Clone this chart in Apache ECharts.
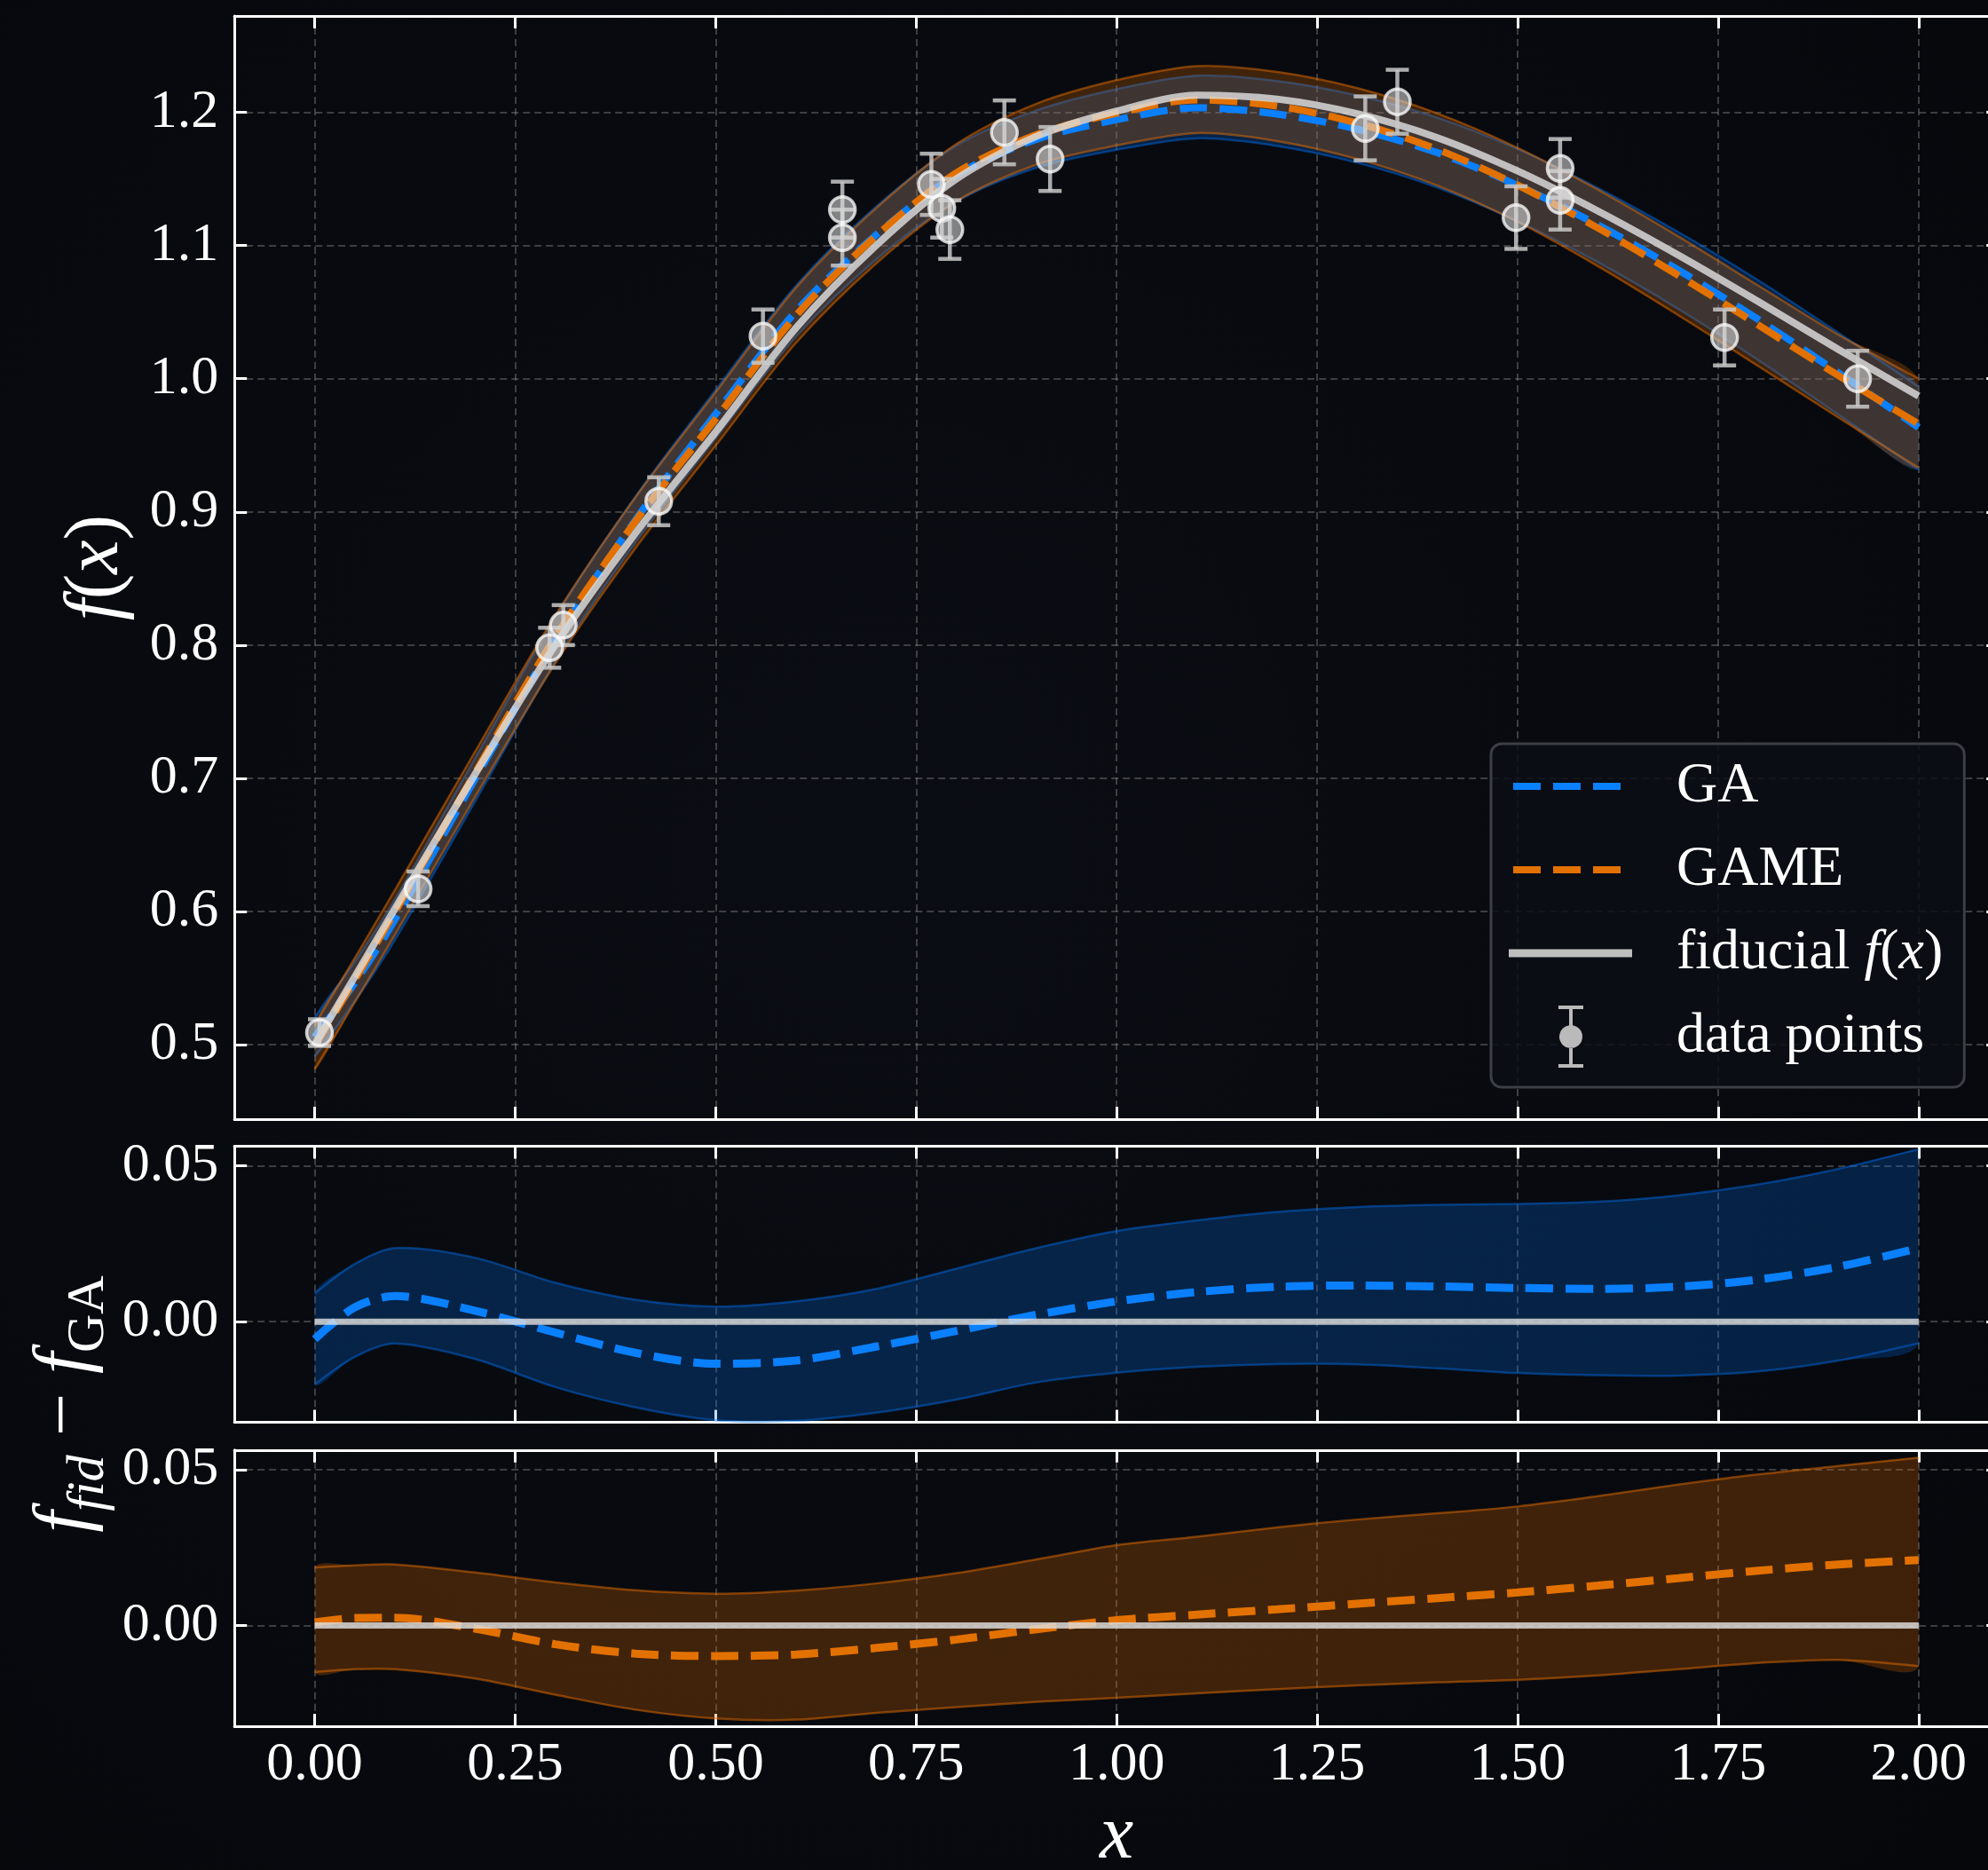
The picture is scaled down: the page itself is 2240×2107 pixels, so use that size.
<!DOCTYPE html>
<html>
<head>
<meta charset="utf-8">
<script src="https://cdn.jsdelivr.net/npm/echarts@6/dist/echarts.min.js"></script>
<style>
html,body{margin:0;padding:0;background:#070a0f;}
#chart{width:2240px;height:2107px;}
</style>
</head>
<body>
<div id="chart"></div>
<script>
// ---------------- data ----------------
const xs = [0, 0.05, 0.1, 0.2, 0.3, 0.4, 0.5, 0.6, 0.7, 0.8, 0.9, 1.0, 1.1, 1.2, 1.3, 1.4, 1.5, 1.6, 1.7, 1.8, 1.9, 2.0];

const fiducial = [0.500, 0.551, 0.602, 0.703, 0.800, 0.884, 0.960, 1.038, 1.100, 1.150, 1.182, 1.201, 1.213, 1.210, 1.199, 1.181, 1.156, 1.126, 1.093, 1.058, 1.022, 0.987];

const gaFit   = [0.5056, 0.5464, 0.5938, 0.6995, 0.8035, 0.894, 0.9735, 1.0505, 1.108, 1.153, 1.1798, 1.1945, 1.2035, 1.1988, 1.1874, 1.1697, 1.1452, 1.1155, 1.0818, 1.0445, 1.0044, 0.9634];
const gaLow   = [0.491, 0.5325, 0.5784, 0.6825, 0.7875, 0.877, 0.9552, 1.0315, 1.0895, 1.133, 1.1584, 1.1719, 1.1805, 1.1748, 1.1622, 1.1435, 1.1182, 1.0875, 1.0525, 1.014, 0.973, 0.9317];
const gaHigh  = [0.5202, 0.5623, 0.609, 0.715, 0.821, 0.9115, 0.9916, 1.0698, 1.1292, 1.175, 1.2015, 1.2174, 1.2275, 1.2236, 1.2127, 1.196, 1.1725, 1.1432, 1.1103, 1.074, 1.0345, 0.9939];

const gameFit  = [0.499, 0.5486, 0.5995, 0.704, 0.806, 0.893, 0.9698, 1.0473, 1.1072, 1.1545, 1.1832, 1.1993, 1.2095, 1.2048, 1.192, 1.1722, 1.1454, 1.1132, 1.0778, 1.0404, 1.0024, 0.966];
const gameLow  = [0.4814, 0.5317, 0.5824, 0.686, 0.7862, 0.8727, 0.9498, 1.0268, 1.0865, 1.1332, 1.1608, 1.1752, 1.1845, 1.1785, 1.165, 1.145, 1.1178, 1.0845, 1.0478, 1.0095, 0.9708, 0.9332];
const gameHigh = [0.5149, 0.565, 0.616, 0.720, 0.8222, 0.911, 0.9898, 1.0682, 1.128, 1.1762, 1.2065, 1.2242, 1.2348, 1.2304, 1.2182, 1.1992, 1.1734, 1.142, 1.107, 1.070, 1.033, 1.000];

// residuals f_fid - f_fit
const resGA     = [-0.0056, 0.0046, 0.0082, 0.0035, -0.0035, -0.0100, -0.0135, -0.0125, -0.0080, -0.0030, 0.0022, 0.0065, 0.0095, 0.0112, 0.0116, 0.0113, 0.0108, 0.0105, 0.0112, 0.0135, 0.0176, 0.0236];
const resGAHigh = [0.0090, 0.0185, 0.0236, 0.0205, 0.0125, 0.0070, 0.0048, 0.0065, 0.0105, 0.0170, 0.0236, 0.0291, 0.0325, 0.0352, 0.0368, 0.0375, 0.0378, 0.0385, 0.0405, 0.0440, 0.0490, 0.0553];
const resGALow  = [-0.0202, -0.0113, -0.0070, -0.0120, -0.0210, -0.0275, -0.0316, -0.0318, -0.0292, -0.0250, -0.0195, -0.0164, -0.0145, -0.0136, -0.0137, -0.0150, -0.0165, -0.0172, -0.0173, -0.0160, -0.0125, -0.0069];

const resGAME     = [0.0010, 0.0024, 0.0025, -0.0010, -0.0060, -0.0090, -0.0098, -0.0093, -0.0072, -0.0045, -0.0012, 0.0017, 0.0035, 0.0052, 0.0070, 0.0088, 0.0106, 0.0128, 0.0152, 0.0176, 0.0196, 0.0210];
const resGAMEHigh = [0.0186, 0.0193, 0.0196, 0.0170, 0.0138, 0.0113, 0.0102, 0.0112, 0.0135, 0.0168, 0.0212, 0.0258, 0.0285, 0.0315, 0.0340, 0.0360, 0.0382, 0.0415, 0.0452, 0.0485, 0.0512, 0.0538];
const resGAMELow  = [-0.0149, -0.0140, -0.0140, -0.0170, -0.0222, -0.0270, -0.0298, -0.0302, -0.0280, -0.0262, -0.0245, -0.0232, -0.0218, -0.0204, -0.0192, -0.0182, -0.0174, -0.0160, -0.0140, -0.0120, -0.0110, -0.0130];

const zeroX = [0, 2];
const zeroY = [0, 0];

const pointX   = [0.006, 0.129, 0.293, 0.310, 0.429, 0.559, 0.658, 0.658, 0.769, 0.782, 0.792, 0.860, 0.917, 1.310, 1.350, 1.498, 1.553, 1.553, 1.758, 1.924];
const pointY   = [0.509, 0.617, 0.798, 0.815, 0.908, 1.032, 1.127, 1.106, 1.146, 1.128, 1.112, 1.185, 1.165, 1.188, 1.208, 1.121, 1.158, 1.134, 1.031, 1.000];
const pointErr = [0.010, 0.013, 0.015, 0.015, 0.018, 0.020, 0.021, 0.021, 0.023, 0.022, 0.022, 0.024, 0.024, 0.024, 0.024, 0.0235, 0.022, 0.022, 0.021, 0.021];

const legendNames = ['GA', 'GAME', 'fiducial f(x)', 'data points'];

// ---------------- styling ----------------
const FONT = 'Liberation Serif';
const WHITE = '#ffffff';
const BLUE = '#0a80ff';
const ORANGE = '#e37100';
const FID = 'rgba(222,222,222,0.82)';
const GRIDLINE = {color: 'rgba(150,150,150,0.5)', width: 1.5, type: [8, 5]};

const grids = [
  {left: 264.2, top: 18, width: 1988, height: 1243},
  {left: 264.2, top: 1291.4, width: 1988, height: 311.2},
  {left: 264.2, top: 1633.8, width: 1988, height: 311.2}
].map(g => Object.assign({outerBoundsMode: 'none', containLabel: false}, g));

function xAxes(gridIndex, showLabels) {
  const common = {
    type: 'value', gridIndex, min: -0.1, max: 2.1,
    minInterval: 0.25, maxInterval: 0.25, splitNumber: 9,
    axisLine: {show: true, onZero: false, lineStyle: {color: WHITE, width: 3}},
    axisTick: {show: true, inside: true, length: 14, lineStyle: {color: WHITE, width: 3}}
  };
  const bottom = Object.assign({}, common, {
    position: 'bottom',
    axisLabel: {show: showLabels, showMinLabel: false, showMaxLabel: false, color: WHITE,
      fontFamily: FONT, fontSize: 62, margin: 13, formatter: v => v.toFixed(2)},
    splitLine: {show: true, lineStyle: GRIDLINE}
  });
  if (showLabels) {
    bottom.name = 'x';
    bottom.nameLocation = 'middle';
    bottom.nameGap = 82;
    bottom.nameTextStyle = {color: WHITE, fontFamily: FONT, fontSize: 86, fontStyle: 'italic'};
  }
  const top = Object.assign({}, common, {
    position: 'top', axisLabel: {show: false}, splitLine: {show: false}
  });
  return [bottom, top];
}

function yAxes(gridIndex, min, max, step, split, digits) {
  const common = {
    type: 'value', gridIndex, min, max, minInterval: step, maxInterval: step, splitNumber: split,
    axisLine: {show: true, onZero: false, lineStyle: {color: WHITE, width: 3}},
    axisTick: {show: true, inside: true, length: 14, lineStyle: {color: WHITE, width: 3}}
  };
  const left = Object.assign({}, common, {
    position: 'left',
    axisLabel: {show: true, showMinLabel: false, showMaxLabel: false, color: WHITE,
      fontFamily: FONT, fontSize: 62, margin: 18, formatter: v => v.toFixed(digits)},
    splitLine: {show: true, lineStyle: GRIDLINE}
  });
  const right = Object.assign({}, common, {
    position: 'right', axisLabel: {show: false}, splitLine: {show: false}
  });
  return [left, right];
}

const xAxis = [].concat(xAxes(0, false), xAxes(1, false), xAxes(2, true));
const yAxis = [].concat(
  yAxes(0, 0.444, 1.2724, 0.1, 8, 1),
  yAxes(1, -0.0323, 0.0563, 0.05, 2, 2),
  yAxes(2, -0.0323, 0.0563, 0.05, 2, 2)
);
yAxis[0].name = '{i|f}{n|(}{i|x}{n|)}';
yAxis[0].nameLocation = 'middle';
yAxis[0].nameRotate = 90;
yAxis[0].nameGap = 112;
yAxis[0].nameTextStyle = {
  color: WHITE, fontFamily: FONT, fontSize: 86,
  rich: {
    i: {color: WHITE, fontFamily: FONT, fontSize: 86, fontStyle: 'italic'},
    n: {color: WHITE, fontFamily: FONT, fontSize: 86}
  }
};

function bandSeries(name, axisIdx, lo, hi, fill, stroke, z) {
  return {
    type: 'custom', name, xAxisIndex: axisIdx, yAxisIndex: axisIdx, z, silent: true,
    data: xs.map((x, i) => [x, lo[i], hi[i]]),
    encode: {x: 0, y: [1, 2]},
    renderItem: function (params, api) {
      if (params.dataIndexInside !== 0) return null;
      const n = params.dataInsideLength;
      const up = [], dn = [];
      for (let i = 0; i < n; i++) {
        up.push(api.coord([api.value(0, i), api.value(2, i)]));
        dn.push(api.coord([api.value(0, i), api.value(1, i)]));
      }
      const poly = up.concat(dn.slice().reverse());
      let minX = Infinity, minY = Infinity, maxX = -Infinity, maxY = -Infinity;
      poly.forEach(p => {
        minX = Math.min(minX, p[0]); maxX = Math.max(maxX, p[0]);
        minY = Math.min(minY, p[1]); maxY = Math.max(maxY, p[1]);
      });
      return {
        type: 'group',
        children: [
          {type: 'polygon', shape: {points: poly, smooth: 0.3, smoothConstraint: [[minX, minY], [maxX, maxY]]}, style: {fill: fill}},
          {type: 'polyline', shape: {points: up, smooth: 0.3}, style: {fill: null, stroke: stroke, lineWidth: 2.5}},
          {type: 'polyline', shape: {points: dn, smooth: 0.3}, style: {fill: null, stroke: stroke, lineWidth: 2.5}}
        ]
      };
    }
  };
}

function lineSeries(name, axisIdx, xArr, yArr, color, width, dash, z) {
  return {
    type: 'line', name, xAxisIndex: axisIdx, yAxisIndex: axisIdx, z, silent: true,
    data: xArr.map((x, i) => [x, yArr[i]]),
    symbol: 'none', showSymbol: false, smooth: 0.3,
    lineStyle: {color, width, type: dash}, itemStyle: {color}
  };
}

const BLUE_FILL = 'rgba(0,122,255,0.23)';
const BLUE_EDGE = 'rgba(0,110,240,0.45)';
const ORANGE_FILL = 'rgba(228,108,0,0.26)';
const ORANGE_EDGE = 'rgba(228,108,0,0.5)';
const DASH = [31, 14];

const series = [
  // top panel
  bandSeries('GA band', 0, gaLow, gaHigh, BLUE_FILL, BLUE_EDGE, 1),
  bandSeries('GAME band', 0, gameLow, gameHigh, ORANGE_FILL, ORANGE_EDGE, 1),
  lineSeries('GA', 0, xs, gaFit, BLUE, 8, DASH, 2),
  lineSeries('GAME', 0, xs, gameFit, ORANGE, 8, DASH, 2),
  lineSeries('fiducial f(x)', 0, xs, fiducial, FID, 8, 'solid', 2),
  {
    type: 'custom', name: 'data points', xAxisIndex: 0, yAxisIndex: 0, z: 3, silent: true,
    data: pointX.map((x, i) => [x, pointY[i], pointErr[i]]),
    encode: {x: 0, y: 1},
    renderItem: function (params, api) {
      const x = api.value(0), y = api.value(1), e = api.value(2);
      const t = api.coord([x, y + e]);
      const b = api.coord([x, y - e]);
      const hw = 13;
      const st = {stroke: 'rgba(200,200,200,0.85)', lineWidth: 4.5};
      return {
        type: 'group',
        children: [
          {type: 'line', shape: {x1: t[0], y1: t[1], x2: b[0], y2: b[1]}, style: st},
          {type: 'line', shape: {x1: t[0] - hw, y1: t[1], x2: t[0] + hw, y2: t[1]}, style: st},
          {type: 'line', shape: {x1: b[0] - hw, y1: b[1], x2: b[0] + hw, y2: b[1]}, style: st}
        ]
      };
    }
  },
  {
    type: 'scatter', name: 'data points', xAxisIndex: 0, yAxisIndex: 0, z: 4, silent: true,
    data: pointX.map((x, i) => [x, pointY[i]]),
    symbol: 'circle', symbolSize: 29,
    itemStyle: {color: 'rgba(218,218,218,0.72)', borderColor: 'rgba(252,252,252,0.95)', borderWidth: 3.5}
  },
  // middle panel (GA residual)
  bandSeries('GA residual band', 2, resGALow, resGAHigh, BLUE_FILL, BLUE_EDGE, 1),
  lineSeries('GA', 2, xs, resGA, BLUE, 9, DASH, 2),
  lineSeries('fiducial residual GA', 2, zeroX, zeroY, FID, 7, 'solid', 3),
  // bottom panel (GAME residual)
  bandSeries('GAME residual band', 4, resGAMELow, resGAMEHigh, ORANGE_FILL, ORANGE_EDGE, 1),
  lineSeries('GAME', 4, xs, resGAME, ORANGE, 9, DASH, 2),
  lineSeries('fiducial residual GAME', 4, zeroX, zeroY, FID, 7, 'solid', 3)
];

const ERR_ICON = 'path://M56,0H84V4H72V22.15A13,13,0,1,1,68,22.15V4H56ZM68,47.85V66H56V70H84V66H72V47.85ZM0,35M139,35';
const DASH_ICON = 'path://M-5,0M0,0H31V8H0ZM45,0H76V8H45ZM90,0H121V8H90ZM134,8';
const FID_ICON = 'path://M0,0H139V9H0Z';

const legend = {
  show: true, orient: 'vertical', align: 'left', left: 1680, top: 838,
  itemWidth: 139, itemHeight: 72, itemGap: 22,
  padding: [12, 24, 21, 20],
  backgroundColor: 'rgba(11,14,20,0.85)', borderColor: '#3c3f45', borderWidth: 3, borderRadius: 12,
  selectedMode: false,
  symbolKeepAspect: true,
  textStyle: {
    color: WHITE, fontFamily: FONT, fontSize: 64, lineHeight: 72, padding: [0, 0, 0, 45],
    rich: {
      n: {color: WHITE, fontFamily: FONT, fontSize: 64, lineHeight: 72},
      i: {color: WHITE, fontFamily: FONT, fontSize: 64, lineHeight: 72, fontStyle: 'italic'}
    }
  },
  formatter: function (name) {
    return name === 'fiducial f(x)' ? '{n|fiducial }{i|f}{n|(}{i|x}{n|)}' : name;
  },
  data: [
    {name: legendNames[0], icon: DASH_ICON, itemStyle: {color: BLUE, borderWidth: 0}},
    {name: legendNames[1], icon: DASH_ICON, itemStyle: {color: ORANGE, borderWidth: 0}},
    {name: legendNames[2], icon: FID_ICON, itemStyle: {color: 'rgba(200,200,200,0.95)', borderWidth: 0}},
    {name: legendNames[3], icon: ERR_ICON, itemStyle: {color: 'rgba(205,205,205,0.9)', borderWidth: 0}}
  ]
};

const option = {
  animation: false,
  backgroundColor: {
    type: 'radial', x: 0.45, y: 0.45, r: 0.85,
    colorStops: [{offset: 0, color: '#0a0d13'}, {offset: 1, color: '#05070b'}]
  },
  textStyle: {fontFamily: FONT},
  grid: grids,
  xAxis, yAxis, legend, series,
  graphic: [{
    type: 'text', x: 74, y: 1582, rotation: Math.PI / 2, silent: true,
    style: {
      text: '{i|f}{s|fid}{n| − }{i|f}{g|GA}',
      align: 'center', verticalAlign: 'middle', fill: WHITE,
      rich: {
        i: {fill: WHITE, fontFamily: FONT, fontSize: 86, fontStyle: 'italic', lineHeight: 112},
        n: {fill: WHITE, fontFamily: FONT, fontSize: 86, lineHeight: 112},
        s: {fill: WHITE, fontFamily: FONT, fontSize: 60, fontStyle: 'italic', lineHeight: 60, verticalAlign: 'bottom'},
        g: {fill: WHITE, fontFamily: FONT, fontSize: 60, lineHeight: 60, verticalAlign: 'bottom'}
      }
    }
  }]
};

const chart = echarts.init(document.getElementById('chart'), null, {renderer: 'canvas', width: 2240, height: 2107});
chart.setOption(option);
</script>
</body>
</html>
